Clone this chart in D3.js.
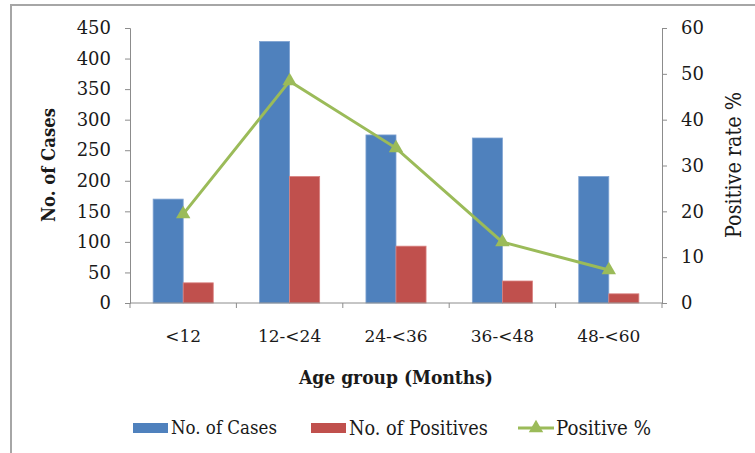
<!doctype html>
<html lang="en">
  <head>
    <meta charset="utf-8">
    <title>Age group chart</title>
    <script src="https://d3js.org/d3.v7.min.js"></script>
    <style>
      body { margin: 0; background: #fff; }
      text { font-family: 'DejaVu Serif', serif; fill: #1a1a1a; }
    </style>
  </head>
  <body>
    <div id="root"></div>
  </body>
  <script>

    //data:
    const categories = ['<12', '12-<24', '24-<36', '36-<48', '48-<60'];
    const cases = [170, 428, 275, 270, 207];
    const positives = [33, 207, 93, 36, 15];
    const positiveRate = [19.4, 48.4, 33.8, 13.3, 7.2];
    const leftTicks = [0, 50, 100, 150, 200, 250, 300, 350, 400, 450];
    const rightTicks = [0, 10, 20, 30, 40, 50, 60];

    const width = 755;
    const height = 453;
    const plot = { left: 130, right: 662, top: 28, bottom: 303 };

    const blue = '#4f81bd';
    const red = '#c0504d';
    const green = '#9bbb59';
    const axisGrey = '#8c8c8c';

    // shrink/grow a text's font size so it spans roughly the wanted width
    function fitWidth(sel, target) {
      sel.each(function () {
        const size = parseFloat(this.style.fontSize);
        const w = this.getComputedTextLength();
        if (w > 0) d3.select(this).style('font-size', (size * target / w).toFixed(2) + 'px');
      });
    }

    //scales:
    const xScale = d3.scaleBand()
      .domain(categories)
      .range([plot.left, plot.right]);

    const subScale = d3.scaleBand()
      .domain(['cases', 'positives'])
      .range([0, xScale.bandwidth()])
      .paddingOuter(0.77);

    const yLeft = d3.scaleLinear().domain([0, 450]).range([plot.bottom, plot.top]);
    const yRight = d3.scaleLinear().domain([0, 60]).range([plot.bottom, plot.top]);

    const svg = d3.select('#root')
      .append('svg')
      .attr('width', width)
      .attr('height', height);

    //outer frame
    svg.append('rect')
      .attr('x', 11).attr('y', 5)
      .attr('width', 760).attr('height', 470)
      .attr('fill', 'none')
      .attr('stroke', '#a6a6a6')
      .attr('stroke-width', 2);

    //bars
    const groups = svg.selectAll('g.grp')
      .data(categories)
      .enter()
      .append('g')
      .attr('class', 'grp')
      .attr('transform', d => `translate(${xScale(d)},0)`);

    groups.append('rect')
      .attr('x', subScale('cases'))
      .attr('width', subScale.bandwidth())
      .attr('y', (d, i) => yLeft(cases[i]))
      .attr('height', (d, i) => plot.bottom - yLeft(cases[i]))
      .attr('fill', blue)
      .attr('stroke', '#7fa3d2')
      .attr('stroke-width', 0.8);

    groups.append('rect')
      .attr('x', subScale('positives'))
      .attr('width', subScale.bandwidth())
      .attr('y', (d, i) => yLeft(positives[i]))
      .attr('height', (d, i) => plot.bottom - yLeft(positives[i]))
      .attr('fill', red)
      .attr('stroke', '#d98280')
      .attr('stroke-width', 0.8);

    //axes
    const leftAxis = d3.axisLeft(yLeft).tickValues(leftTicks).tickSize(5).tickPadding(14);
    const rightAxis = d3.axisRight(yRight).tickValues(rightTicks).tickSize(5).tickPadding(14);
    const bottomAxis = d3.axisBottom(xScale).tickSize(0).tickPadding(27);

    const gl = svg.append('g').attr('transform', `translate(${plot.left},0)`).call(leftAxis);
    const gr = svg.append('g').attr('transform', `translate(${plot.right},0)`).call(rightAxis);
    const gb = svg.append('g').attr('transform', `translate(0,${plot.bottom})`).call(bottomAxis);

    // category boundary ticks
    const boundaries = categories.map(c => xScale(c)).concat([plot.right]);
    svg.append('g').selectAll('line')
      .data(boundaries)
      .enter()
      .append('line')
      .attr('x1', d => d).attr('x2', d => d)
      .attr('y1', plot.bottom).attr('y2', plot.bottom + 5)
      .attr('stroke', axisGrey);

    [gl, gr, gb].forEach(g => {
      g.selectAll('path, line').attr('stroke', axisGrey);
      g.selectAll('text')
        .style('font-family', "'DejaVu Serif', serif")
        .style('font-size', '18px')
        .attr('fill', '#1a1a1a');
    });
    gb.selectAll('text').style('font-size', '17px');
    gb.select('path').attr('d', `M${plot.left},0H${plot.right}`);

    //line series
    const line = d3.line()
      .x((d, i) => xScale(categories[i]) + xScale.bandwidth() / 2)
      .y(d => yRight(d));

    svg.append('path')
      .datum(positiveRate)
      .attr('d', line)
      .attr('fill', 'none')
      .attr('stroke', green)
      .attr('stroke-width', 3);

    const tri = d3.symbol().type(d3.symbolTriangle).size(90);
    svg.selectAll('path.marker')
      .data(positiveRate)
      .enter()
      .append('path')
      .attr('class', 'marker')
      .attr('d', tri)
      .attr('transform', (d, i) => `translate(${xScale(categories[i]) + xScale.bandwidth() / 2},${yRight(d)})`)
      .attr('fill', green);

    //axis titles
    svg.append('text')
      .attr('transform', `translate(55,165) rotate(-90)`)
      .attr('text-anchor', 'middle')
      .style('font-weight', 'bold')
      .style('font-stretch', 'condensed')
      .style('font-size', '18px')
      .text('No. of Cases')
      .call(fitWidth, 114);

    svg.append('text')
      .attr('transform', `translate(741,165) rotate(-90)`)
      .attr('text-anchor', 'middle')
      .style('font-size', '18px')
      .style('font-stretch', 'condensed')
      .text('Positive rate %')
      .call(fitWidth, 146);

    svg.append('text')
      .attr('x', (plot.left + plot.right) / 2)
      .attr('y', 384)
      .attr('text-anchor', 'middle')
      .style('font-weight', 'bold')
      .style('font-stretch', 'condensed')
      .style('font-size', '18px')
      .text('Age group (Months)')
      .call(fitWidth, 194);

    //legend
    const legendItems = [
      { label: 'No. of Cases', color: blue, x: 133, kind: 'rect', w: 106 },
      { label: 'No. of Positives', color: red, x: 311, kind: 'rect', w: 139 },
      { label: 'Positive %', color: green, x: 518, kind: 'line', w: 95 }
    ];
    const lg = svg.append('g').selectAll('g')
      .data(legendItems)
      .enter()
      .append('g')
      .attr('transform', d => `translate(${d.x},428)`);

    lg.filter(d => d.kind === 'rect').append('rect')
      .attr('x', 0).attr('y', -5)
      .attr('width', 35).attr('height', 10)
      .attr('fill', d => d.color);

    lg.filter(d => d.kind === 'line').append('line')
      .attr('x1', 0).attr('x2', 36)
      .attr('stroke', d => d.color)
      .attr('stroke-width', 3);

    lg.filter(d => d.kind === 'line').append('path')
      .attr('d', tri)
      .attr('transform', 'translate(18,0)')
      .attr('fill', d => d.color);

    lg.append('text')
      .attr('x', 38)
      .attr('dy', '0.35em')
      .style('font-size', '17px')
      .style('font-stretch', 'condensed')
      .text(d => d.label)
      .each(function (d) { d3.select(this).call(fitWidth, d.w); });

  </script>
</html>
